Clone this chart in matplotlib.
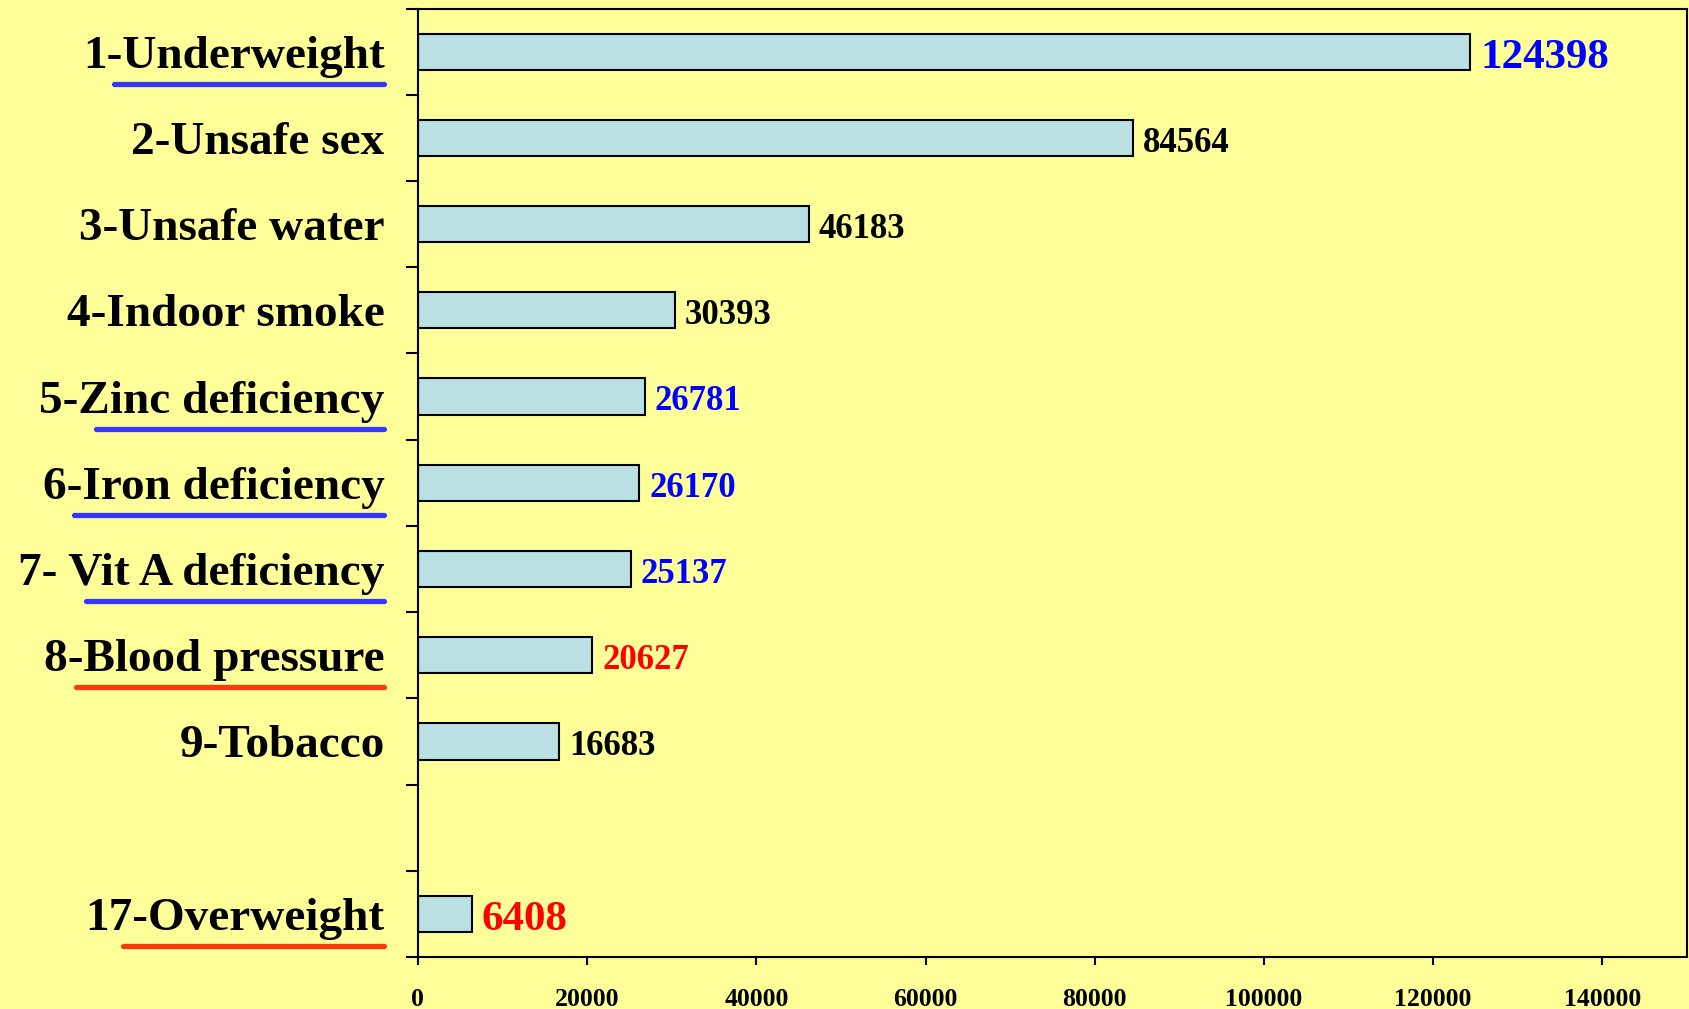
import matplotlib
matplotlib.use("Agg")
import matplotlib.pyplot as plt
from matplotlib.lines import Line2D
import numpy as np

plt.rcParams["font.family"] = ["Liberation Serif", "DejaVu Serif"]
plt.rcParams["font.weight"] = "bold"

# data (blank slot between 9 and 17)
categories = ["1-Underweight", "2-Unsafe sex", "3-Unsafe water", "4-Indoor smoke",
              "5-Zinc deficiency", "6-Iron deficiency", "7- Vit A deficiency",
              "8-Blood pressure", "9-Tobacco", "", "17-Overweight"]
values = [124398, 84564, 46183, 30393, 26781, 26170, 25137, 20627, 16683, None, 6408]
value_colors = ["blue", "black", "black", "black", "blue", "blue", "blue",
                "red", "black", None, "red"]
big_value = [True, False, False, False, False, False, False, False, False, False, True]
underline_colors = ["#3636FF", None, None, None, "#3636FF", "#3636FF", "#3636FF",
                    "#FF3A0A", None, None, "#FF3A0A"]
underline_prefix = ["1-", "", "", "", "5-Z", "6-", "7- V", "8-", "", "", "17"]
xticks = [0, 20000, 40000, 60000, 80000, 100000, 120000, 140000]

bg = "#FFFF99"
bar_color = "#BAE0E3"

fig = plt.figure(figsize=(16.9, 10.09), dpi=100, facecolor=bg)
ax = fig.add_axes([0.2473, 0.0515, 0.7509, 0.94])
ax.set_facecolor(bg)

pos = np.arange(len(categories))
for i, v in enumerate(values):
    if v is None:
        continue
    ax.barh(pos[i], v, height=0.42, color=bar_color, edgecolor="black", linewidth=1.5)
    ax.annotate(f"{v}", (v, pos[i]), xytext=(7, -1), textcoords="offset points",
                va="center_baseline", ha="left", color=value_colors[i],
                fontsize=31 if big_value[i] else 25, fontweight="bold")

ax.set_xlim(0, 150000)
ax.set_ylim(len(categories) - 0.5, -0.5)

# boundary ticks (major) and category labels (minor)
ax.set_yticks(np.arange(len(categories) + 1) - 0.5)
ax.set_yticklabels([])
ax.set_yticks(pos, minor=True)
ax.set_yticklabels(categories, minor=True, fontsize=34, fontweight="bold")
ax.tick_params(axis="y", which="major", direction="out", length=9, width=1.5)
ax.tick_params(axis="y", which="minor", length=0, pad=24)

ax.set_xticks(xticks)
ax.set_xticklabels([str(t) for t in xticks], fontsize=18.5, fontweight="bold")
ax.tick_params(axis="x", direction="out", length=6, width=1.5, pad=16)

for s in ax.spines.values():
    s.set_linewidth(1.5)

# hand-drawn style underlines under the highlighted labels
fig.canvas.draw()
renderer = fig.canvas.get_renderer()
W, H = fig.bbox.width, fig.bbox.height
labels = ax.get_yticklabels(minor=True)
for i, lab in enumerate(labels):
    col = underline_colors[i]
    if col is None:
        continue
    bb = lab.get_window_extent(renderer)
    tmp = fig.text(0, 0, underline_prefix[i], fontsize=34, fontweight="bold")
    pw = tmp.get_window_extent(renderer).width * 0.8
    tmp.remove()
    yc = (bb.y0 + bb.y1) / 2 - 27
    x0 = bb.x0 + pw
    x1 = bb.x1 - 1
    fig.add_artist(Line2D([x0 / W, x1 / W], [yc / H, yc / H], color=col,
                          linewidth=3.8, solid_capstyle="round",
                          transform=fig.transFigure))

fig.savefig("out.png", dpi=100, facecolor=bg)
